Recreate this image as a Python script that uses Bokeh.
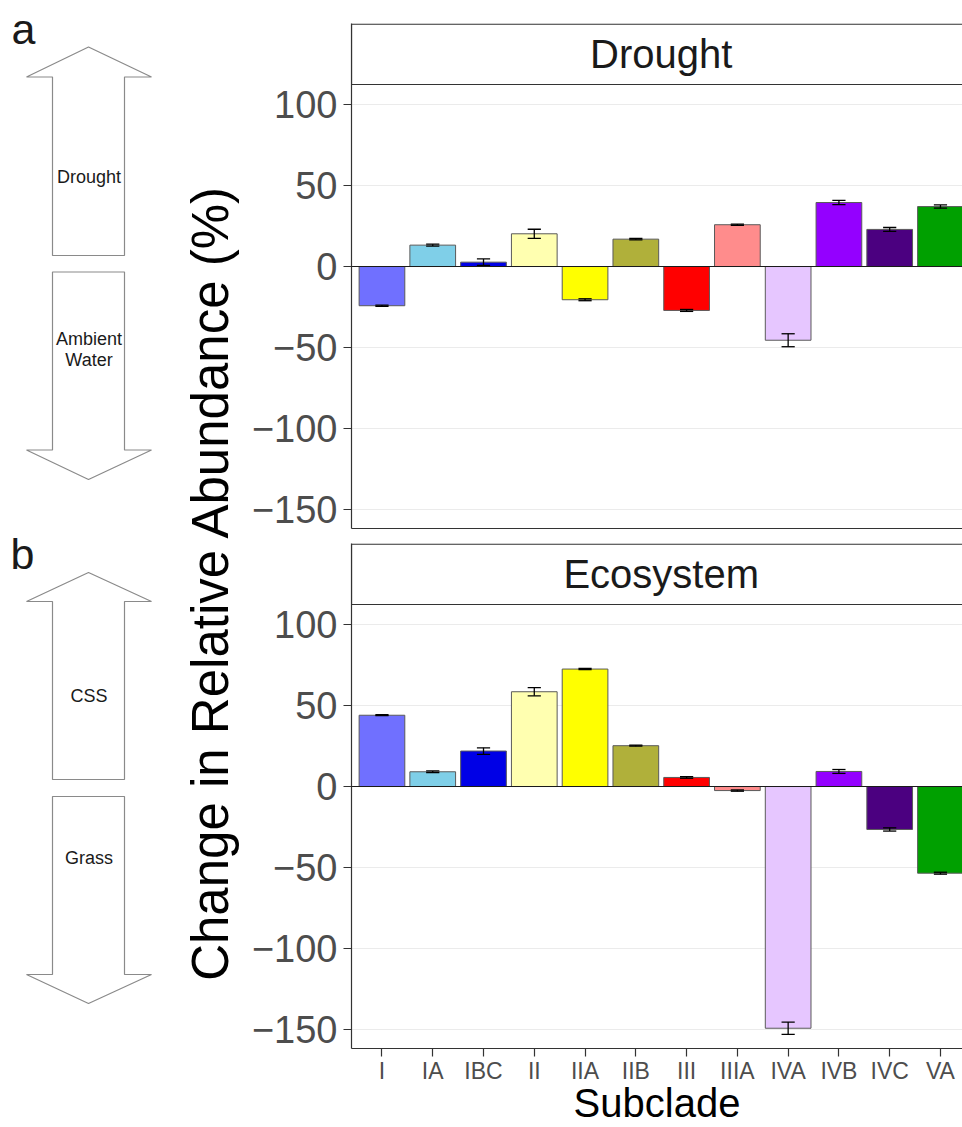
from bokeh.plotting import figure
from bokeh.models import Range1d, FixedTicker, Span, ColumnDataSource
from bokeh.layouts import row, column
from bokeh.embed import file_html
from bokeh.resources import INLINE
from bokeh.core.properties import value

FONT = "Liberation Sans"

# ---------------- data ----------------
subclades = ["I", "IA", "IBC", "II", "IIA", "IIB", "III", "IIIA", "IVA", "IVB", "IVC", "VA"]
bar_colors = ["#7070FF", "#7FCFE8", "#0000E6", "#FFFFB0", "#FFFF00", "#B0B03A",
              "#FF0000", "#FF8C8C", "#E6C6FF", "#9400FF", "#4B0080", "#00A000"]
drought_mean = [-24.2, 13.2, 2.7, 20.2, -20.5, 16.9, -27.1, 25.8, -45.5, 39.5, 22.9, 37.0]
drought_err = [0.4, 0.6, 2.0, 2.8, 0.6, 0.4, 0.6, 0.4, 4.0, 1.3, 1.2, 1.0]
eco_mean = [44.0, 9.1, 21.9, 58.5, 72.5, 25.2, 5.6, -2.5, -149.2, 9.3, -26.5, -53.5]
eco_err = [0.3, 0.5, 2.0, 2.5, 0.4, 0.3, 0.5, 0.4, 3.8, 1.2, 1.0, 0.6]
y_ticks = [-150, -100, -50, 0, 50, 100]
panel_titles = ["Drought", "Ecosystem"]
arrow_labels_a = ["Drought", "Ambient", "Water"]
arrow_labels_b = ["CSS", "Grass"]
y_title = "Change in Relative Abundance (%)"
x_title = "Subclade"

xs = list(range(1, len(subclades) + 1))
Y0, Y1 = -161.7, 150.0
PX_PER_Y = 505 / (Y1 - Y0)
SHIFT = 0.34  # baseline correction, in em


def make_panel(title, means, errs, height, b_top, b_bottom, show_x):
    p = figure(width=714, height=height, x_range=Range1d(0.4, 12.434),
               y_range=Range1d(Y0, Y1), output_backend="svg", toolbar_location=None,
               min_border_left=103, min_border_right=0,
               min_border_top=b_top, min_border_bottom=b_bottom)
    p.outline_line_color = None
    p.background_fill_color = "white"
    p.border_fill_color = "white"
    p.xgrid.grid_line_color = None
    p.ygrid.ticker = FixedTicker(ticks=y_ticks)
    p.ygrid.grid_line_color = "#EBEBEB"
    p.ygrid.grid_line_width = 1.2

    lo = [m - e for m, e in zip(means, errs)]
    hi = [m + e for m, e in zip(means, errs)]
    src = ColumnDataSource(dict(x=xs, m=means, lo=lo, hi=hi,
                                xl=[x - 0.13 for x in xs], xr=[x + 0.13 for x in xs],
                                c=bar_colors))
    p.vbar(x="x", top="m", bottom=0, width=0.9, fill_color="c",
           line_color="#5A5A5A", line_width=1, source=src)
    p.segment(x0="x", y0="lo", x1="x", y1="hi", line_color="black", line_width=1.3, source=src)
    p.segment(x0="xl", y0="hi", x1="xr", y1="hi", line_color="black", line_width=1.3, source=src)
    p.segment(x0="xl", y0="lo", x1="xr", y1="lo", line_color="black", line_width=1.3, source=src)
    p.add_layout(Span(location=0, dimension="width", line_color="#1A1A1A", line_width=1.2))

    # facet strip
    p.quad(left=[0.4], right=[13.0], bottom=[112.35], top=[149.6],
           fill_color="white", line_color="#333333", line_width=1.2)
    base_px = 66.6 - 23 - SHIFT * 40
    p.text(x=[6.5], y=[Y1 - base_px / PX_PER_Y], text=[title], text_align="center",
           text_baseline="alphabetic", text_font=value(FONT), text_font_size="40px",
           text_color="#1A1A1A")

    ya = p.yaxis[0]
    ya.ticker = FixedTicker(ticks=y_ticks)
    ya.major_label_overrides = {t: ("\u2212" + str(abs(t)) if t < 0 else str(t)) for t in y_ticks}
    ya.major_label_text_font = FONT
    ya.major_label_text_font_size = "38px"
    ya.major_label_text_color = "#4D4D4D"
    ya.major_tick_out = 8
    ya.major_tick_in = 0
    ya.minor_tick_line_color = None
    ya.major_tick_line_color = "#333333"
    ya.major_tick_line_width = 1.2
    ya.axis_line_color = "#333333"
    ya.axis_line_width = 1.2
    ya.major_label_standoff = 6

    xa = p.xaxis[0]
    xa.axis_line_color = "#333333"
    xa.axis_line_width = 1.2
    xa.minor_tick_line_color = None
    if show_x:
        xa.ticker = FixedTicker(ticks=xs)
        xa.major_label_overrides = {x: s for x, s in zip(xs, subclades)}
        xa.major_label_text_font = FONT
        xa.major_label_text_font_size = "23px"
        xa.major_label_text_color = "#4D4D4D"
        xa.major_tick_out = 8
        xa.major_tick_in = 0
        xa.major_tick_line_color = "#333333"
        xa.major_tick_line_width = 1.2
        xa.major_label_standoff = 1
        xa.axis_label = x_title
        xa.axis_label_text_font = FONT
        xa.axis_label_text_font_size = "40px"
        xa.axis_label_text_font_style = "normal"
        xa.axis_label_text_color = "black"
        xa.axis_label_standoff = -6
    else:
        xa.ticker = FixedTicker(ticks=[])
        xa.major_tick_line_color = None
        xa.major_label_text_font_size = "0px"
    return p


top = make_panel(panel_titles[0], drought_mean, drought_err, 535, 23, 7, False)
bot = make_panel(panel_titles[1], eco_mean, eco_err, 592, 8, 79, True)

# ---------------- left annotation column ----------------
H = 1127
L = figure(width=248, height=H, x_range=Range1d(0, 248), y_range=Range1d(0, H),
           output_backend="svg", toolbar_location=None, min_border=0,
           x_axis_type=None, y_axis_type=None)
L.outline_line_color = None
L.background_fill_color = "white"


def Y(r, fs=0):
    return H - (r - SHIFT * fs)


def up_arrow(tip, base, bottom):
    px = [88, 151, 124, 124, 52, 52, 26]
    py = [tip, base, base, bottom, bottom, base, base]
    return px, [Y(v) for v in py]


def down_arrow(topy, base, tip):
    px = [52, 124, 124, 151, 88, 26, 52]
    py = [topy, topy, base, base, tip, base, base]
    return px, [Y(v) for v in py]


arrows = [up_arrow(46.5, 76.5, 255), down_arrow(271.5, 449.5, 479),
          up_arrow(572, 601, 779), down_arrow(796, 974, 1003)]
L.patches(xs=[a[0] for a in arrows], ys=[a[1] for a in arrows],
          fill_color="white", line_color="#8A8A8A", line_width=1.2)

small_txt = [(arrow_labels_a[0], 182.5), (arrow_labels_a[1], 345), (arrow_labels_a[2], 366),
             (arrow_labels_b[0], 701.5), (arrow_labels_b[1], 864)]
L.text(x=[88.5] * len(small_txt), y=[Y(b, 18) for _, b in small_txt],
       text=[t for t, _ in small_txt], text_align="center", text_baseline="alphabetic",
       text_font=value(FONT), text_font_size="18px", text_color="#1A1A1A")

L.text(x=[11, 10], y=[Y(43, 43), Y(568, 43)], text=["a", "b"], text_align="left",
       text_baseline="alphabetic", text_font=value(FONT), text_font_size="43px",
       text_color="#1A1A1A")

L.text(x=[227 - SHIFT * 51], y=[Y(582)], text=[y_title], angle=1.5707963, text_align="center",
       text_baseline="alphabetic", text_font=value(FONT), text_font_size="51px",
       text_color="black")

layout = row(L, column(top, bot))
open("out.html", "w").write(file_html(layout, INLINE))
